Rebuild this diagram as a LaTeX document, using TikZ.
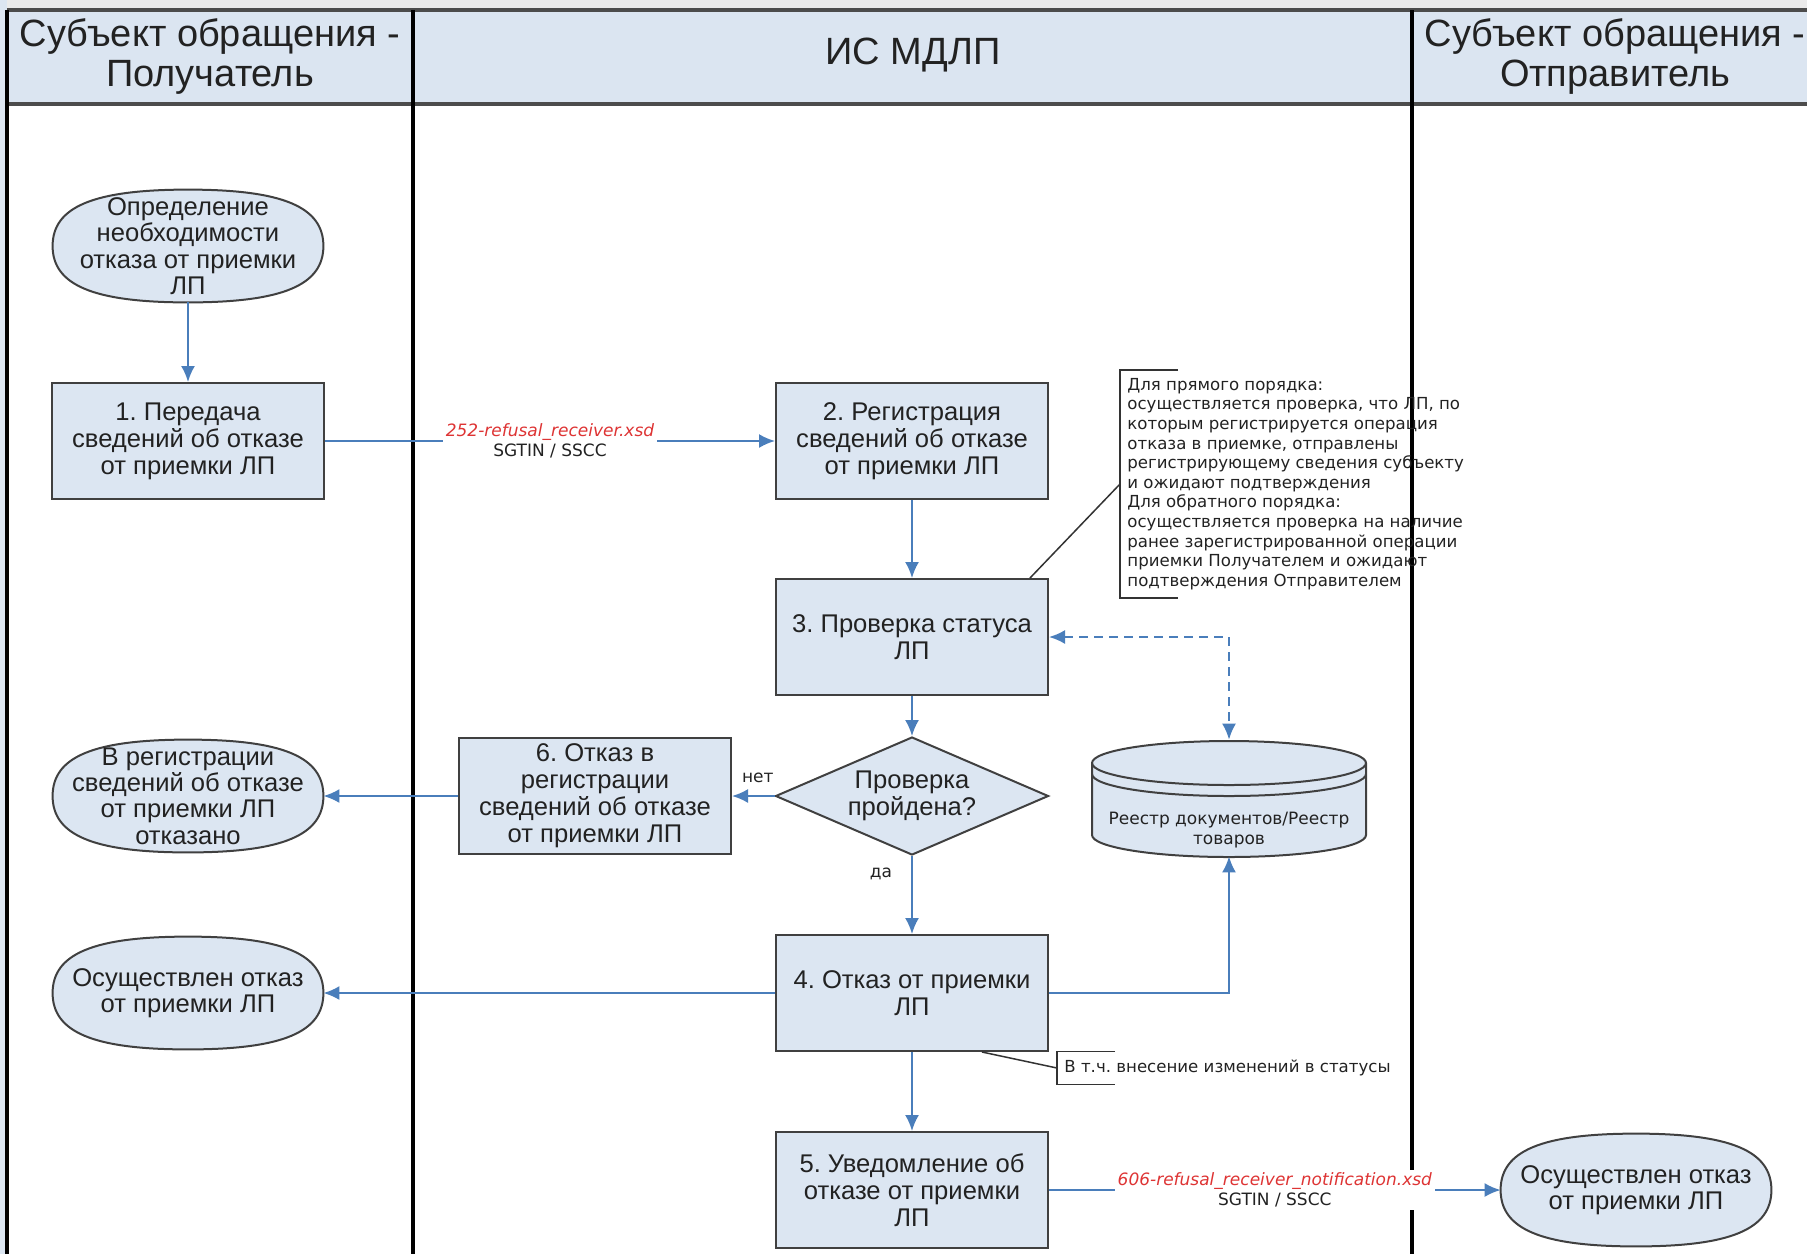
\documentclass[tikz,border=0pt]{standalone}
\usepackage{fontspec}
\setmainfont{Liberation Sans}
\newfontfamily\dejavu{DejaVu Sans}
\usetikzlibrary{shapes.geometric,arrows.meta,backgrounds}
\frenchspacing

\definecolor{boxfill}{RGB}{220,230,242}
\definecolor{headfill}{RGB}{219,229,241}
\definecolor{flowblue}{RGB}{74,126,187}
\definecolor{xsdred}{RGB}{222,52,52}
\definecolor{inkgray}{RGB}{34,34,34}

\tikzset{
  nodefont/.style={font=\fontsize{12.8}{13.5}\selectfont},
  small/.style={font=\dejavu\fontsize{8.5}{9.8}\selectfont, text=inkgray},
  proc/.style={rectangle, draw=black!75, line width=1pt, fill=boxfill, text=inkgray,
    minimum width=136pt, minimum height=58pt, inner sep=2pt, align=center, nodefont},
  term/.style={rectangle, text=inkgray, minimum width=135pt, minimum height=56pt,
    inner sep=0pt, align=center, font=\fontsize{12.8}{13.2}\selectfont},
  termline/.style={draw=black!75, line width=1pt, fill=boxfill},
  check/.style={diamond, draw=black!75, line width=1pt, fill=boxfill, text=inkgray,
    minimum width=136.5pt, minimum height=59pt, aspect=2.3, inner sep=0pt, align=center, nodefont},
  flow/.style={draw=flowblue, line width=1pt, -{Latex[length=8pt,width=7pt]}},
  xsdlabel/.style={fill=white, inner sep=1.5pt, align=center, small},
  note/.style={align=left, small, font=\dejavu\fontsize{8.3}{9.8}\selectfont, inner xsep=3.5pt, inner ysep=4pt},
  bracket/.style={draw=black!80, line width=0.75pt},
  lane/.style={line width=2pt},
  headtext/.style={align=center, font=\fontsize{19}{20}\selectfont, text=inkgray},
}

\begin{document}
\begin{tikzpicture}[x=0.5pt,y=-0.5pt]
  \useasboundingbox (0,0) rectangle (1807,1254);

  \fill[black!8] (0,0) rectangle (1807,10);
  \fill[boxfill] (0,0) rectangle (7,1254);
  \fill[headfill] (7,10) rectangle (1807,104);
  \draw[lane,black!70] (7,10) -- (1807,10) (7,104) -- (1807,104);
  \foreach \x in {7,413,1412}
    \draw[lane] (\x,10) -- (\x,1254);

  \node[headtext] (h1) at (210,57) {Субъект обращения -\\Получатель};
  \node[headtext] (h2) at (913,55) {ИС МДЛП};
  \node[headtext] (h3) at (1615,57) {Субъект обращения -\\Отправитель};

  \node[term] (start) at (188,246) {Определение\\необходимости\\отказа от приемки\\ЛП};
  \node[proc] (p1) at (188,441) {1. Передача\\сведений об отказе\\от приемки ЛП};
  \node[proc] (p2) at (912,441) {2. Регистрация\\сведений об отказе\\от приемки ЛП};
  \node[proc] (p3) at (912,637) {3. Проверка статуса\\ЛП};
  \node[check] (chk) at (912,796) {Проверка\\пройдена?};
  \node[proc] (p6) at (595,796) {6. Отказ в\\регистрации\\сведений об отказе\\от приемки ЛП};
  \node[term] (end1) at (188,796) {В регистрации\\сведений об отказе\\от приемки ЛП\\отказано};
  \node[proc] (p4) at (912,993) {4. Отказ от приемки\\ЛП};
  \node[term] (end2) at (188,993) {Осуществлен отказ\\от приемки ЛП};
  \node[proc] (p5) at (912,1190) {5. Уведомление об\\отказе от приемки\\ЛП};
  \node[term] (end3) at (1636,1190) {Осуществлен отказ\\от приемки ЛП};

  \begin{scope}[on background layer]
    \foreach \t in {start,end1,end2,end3}
      \filldraw[termline] (\t.west) .. controls +(0,-39) and +(-95,0) .. (\t.north)
        .. controls +(95,0) and +(0,-39) .. (\t.east)
        .. controls +(0,39) and +(95,0) .. (\t.south)
        .. controls +(-95,0) and +(0,39) .. (\t.west) -- cycle;
  \end{scope}

  \node[minimum width=137pt, minimum height=58pt, inner sep=0pt] (reg) at (1229,798) {};
  \filldraw[fill=boxfill, draw=black!75, line width=1pt] (1092,763) -- (1092,835)
    arc[start angle=180, end angle=0, x radius=137, y radius=22] -- (1366,763)
    arc[start angle=0, end angle=-180, x radius=137, y radius=22] -- cycle;
  \draw[black!75, line width=1pt] (1092,763) arc[start angle=180, end angle=0, x radius=137, y radius=22];
  \draw[black!75, line width=1pt] (1092,774) arc[start angle=180, end angle=0, x radius=137, y radius=22];
  \node[small, align=center] (regtxt) at (1229,830) {Реестр документов/Реестр\\товаров};

  \draw[flow] (start) -- (p1);
  \draw[flow] (p1) -- node[xsdlabel] (x1)
    {{\color{xsdred}\itshape 252-refusal\_receiver.xsd}\\SGTIN / SSCC} (p2);
  \draw[flow] (p2) -- (p3);
  \draw[flow] (p3) -- (chk);
  \draw[flow] (chk) -- node[pos=0, anchor=south east, small, inner xsep=0pt, inner ysep=6pt] (no) {нет} (p6);
  \draw[flow] (p6) -- (end1);
  \draw[flow] (chk) -- node[pos=0, anchor=north east, small, inner xsep=9.5pt, inner ysep=5.5pt] (yes) {да} (p4);
  \draw[flow] (p4) -- (end2);
  \draw[flow] (p4.east) -| (reg.south);
  \draw[flow, {Latex[length=8pt,width=7pt]}-{Latex[length=8pt,width=7pt]}, dash pattern=on 4.5pt off 3pt]
    (p3.east) -| (reg.north);
  \draw[flow] (p4) -- (p5);
  \draw[flow] (p5) -- node[xsdlabel] (x2)
    {{\color{xsdred}\itshape 606-refusal\_receiver\_notification.xsd}\\SGTIN / SSCC} (end3);

  \node[note, anchor=west] (n1) at (1120,484) {Для прямого порядка:\\осуществляется проверка, что ЛП, по\\которым регистрируется операция\\отказа в приемке, отправлены\\регистрирующему сведения субъекту\\и ожидают подтверждения\\Для обратного порядка:\\осуществляется проверка на наличие\\ранее зарегистрированной операции\\приемки Получателем и ожидают\\подтверждения Отправителем};
  \draw[bracket] ([xshift=29pt]n1.north west) -- (n1.north west) -- (n1.south west) -- ([xshift=29pt]n1.south west);
  \draw[bracket] ([xshift=-9.5pt]p3.north east) -- (n1.west);

  \node[note, anchor=west, minimum height=15pt] (n2) at (1057,1068) {В т.ч. внесение изменений в статусы};
  \draw[bracket] ([xshift=29pt]n2.north west) -- (n2.north west) -- (n2.south west) -- ([xshift=29pt]n2.south west);
  \draw[bracket] ([xshift=35pt]p4.south) -- (n2.west);
\end{tikzpicture}
\end{document}
